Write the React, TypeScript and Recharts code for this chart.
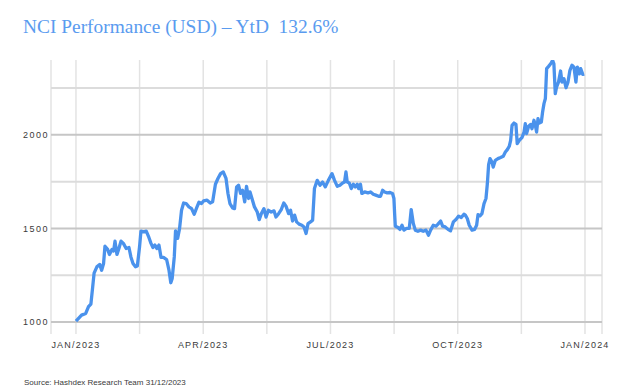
import React from "react";
import { LineChart, Line, XAxis, YAxis, CartesianGrid, ReferenceLine } from "recharts";

// Day of year 2023 (0 = 1 Jan 2023)
const days = [
  0, 4, 7, 9, 10.7, 12, 13, 15, 17, 18.4, 19.8, 20.8, 22.7, 24, 25.8, 27, 28, 29.4, 30.8, 32.3,
  34, 36, 38, 39.4, 40.9, 42.7, 44, 45.6, 46.6, 48.5, 50.4, 52.3, 53.8, 55.2, 56.6, 58, 59.5, 61,
  62.8, 65, 66.7, 68, 69, 70.5, 71.4, 72.9, 74.3, 75.7, 77.2, 79, 81, 82.9, 84.8, 86.8, 88.2, 90,
  91.5, 94, 96.3, 98, 100, 101.8, 103.7, 105.6, 107.6, 109, 110.4, 112.3, 113.7, 115.2, 116.6,
  118, 119.5, 121, 122.3, 123.8, 124.8, 126.2, 128, 130, 131.4, 132.9, 134.8, 136.3, 138, 140,
  142, 143.4, 145.3, 147.2, 149, 150.6, 152.5, 153.9, 155.3, 156.8, 158.2, 160, 162, 163.5, 165,
  166.4, 168.2, 169.7, 171, 173, 175, 176.8, 178.8,
  181, 183.6, 185.4, 187.4, 189.3, 191.2, 192.6, 193.6, 194.5, 196, 197.4, 198.9, 200.3, 201.7,
  202.7, 204, 205, 207, 209.4, 211.3, 213.2, 215, 217, 218.4, 219.9, 221.3, 223.2, 225.2, 227,
  228, 228.5, 229, 231, 232.3, 233.8, 235.2, 237, 239, 240.4, 241.9, 243.3, 245.2, 247.1, 249,
  251, 252.8, 254.3, 256.2, 258.2, 259.6, 261.5, 262.9, 264.8, 266.8, 268.6, 270.6, 272.5, 274.4,
  276.3, 278.2,
  279.2, 280.6, 282, 284, 285.8, 287.3, 288.3, 289.7, 291.1, 292.6, 294, 295, 295.9, 296.9, 298.3,
  299.2, 300.7, 302.6, 304.5, 306.4, 307.9, 309.3, 310.7, 311.7, 312.7, 314.1, 315.5, 316.4,
  317.9, 319.8, 321.3, 322.2, 323.1, 324.6, 326, 327, 328.4, 329.4, 330.3, 331.3, 332.2, 333.7,
  334.6, 335.6, 336.6, 337.5, 338.9, 340.4, 341.8, 342.7, 343.7, 344.6, 346, 347.5, 348.5, 349.9,
  351.4, 352.8, 354.2, 355.7, 357.1, 358.5, 359.5, 361, 361.9, 363.4, 364.4,
];

const nciValues = [
  1005, 1037, 1046, 1082, 1096, 1188, 1261, 1295, 1308, 1277, 1313, 1405, 1388, 1361, 1388, 1380, 1432, 1361, 1393, 1432,
  1420, 1393, 1398, 1348, 1313, 1295, 1299, 1402, 1486, 1482, 1486, 1452, 1420, 1398, 1411, 1393, 1411, 1345,
  1345, 1334, 1277, 1210, 1233, 1348, 1487, 1447, 1500, 1597, 1636, 1633, 1615, 1606, 1576, 1615, 1640, 1633,
  1647, 1651, 1636, 1642, 1736, 1767, 1793, 1802, 1767, 1687, 1633, 1610, 1606, 1722, 1731,
  1687, 1704, 1642, 1725, 1660, 1695, 1660, 1615, 1588, 1547, 1579, 1606, 1561, 1597, 1588,
  1594, 1561, 1579, 1601, 1636, 1619, 1579, 1597, 1540, 1571, 1535, 1523, 1517, 1508, 1473,
  1526, 1535, 1544, 1713, 1757, 1731, 1748, 1722,
  1757, 1793, 1757, 1725, 1731, 1743, 1748, 1802, 1748, 1743, 1713, 1736, 1722, 1736,
  1713, 1736, 1687, 1695, 1690, 1695, 1683, 1678, 1672, 1672, 1704, 1695, 1690, 1692, 1687,
  1660, 1579, 1512, 1505, 1495, 1517, 1491, 1500, 1500, 1601, 1527, 1491, 1485, 1491, 1485,
  1491, 1464, 1491, 1517, 1512, 1523, 1540, 1512, 1508, 1495, 1487, 1535, 1548, 1566,
  1558, 1576,
  1571, 1553, 1517, 1491, 1495, 1517, 1574, 1567, 1579, 1633, 1660, 1740, 1841, 1873, 1855,
  1828, 1864, 1873, 1879, 1886, 1908, 1921, 1939, 1971, 2051, 2063, 2056, 1953,
  1971, 1985, 2015, 2060, 2007, 2046, 2056, 2033, 2078, 2051, 2015, 2087, 2063, 2069,
  2122, 2167, 2194, 2354, 2366, 2380, 2398, 2380, 2220, 2255, 2282, 2341, 2282, 2300,
  2252, 2282, 2345, 2372, 2362, 2282, 2362, 2326, 2354, 2323, 2326,
];

const xTickDays = [0, 45.625, 91.25, 136.875, 182.5, 228.125, 273.75, 319.375, 365];
const xTickLabels = ["JAN/2023", "", "APR/2023", "", "JUL/2023", "", "OCT/2023", "", "JAN/2024"];
const yTickValues = [1000, 1500, 2000];
const majorGridValues = [1000, 1500, 2000];
const minorGridValues = [1250, 1750, 2250];

const titleText = "NCI Performance (USD) – YtD  132.6%";
const sourceText = "Source: Hashdex Research Team 31/12/2023";

const data = days.map((d, i) => ({ day: d, nci: nciValues[i] }));

export default function App() {
  return (
    <div style={{ position: "absolute", left: 0, top: 0, width: 632, height: 392, background: "#ffffff" }}>
      <div
        style={{
          position: "absolute",
          left: 23,
          top: 17,
          fontFamily: "'Liberation Serif', serif",
          fontSize: 19.4,
          lineHeight: "19px",
          color: "#5a9bef",
          whiteSpace: "pre",
        }}
      >
        {titleText}
      </div>
      <LineChart width={632} height={392} data={data} margin={{ top: 60, right: 30, bottom: 28, left: 6 }}>
        <CartesianGrid horizontal={false} vertical={true} stroke="#e3e3e3" strokeWidth={1.5} />
        {minorGridValues.map((v) => (
          <ReferenceLine key={"mi" + v} y={v} stroke="#dcdcdc" strokeWidth={2} />
        ))}
        {majorGridValues.map((v) => (
          <ReferenceLine key={"ma" + v} y={v} stroke="#c6c6c6" strokeWidth={2} />
        ))}
        <XAxis
          dataKey="day"
          type="number"
          domain={[-17.9, 377.2]}
          ticks={xTickDays}
          tickFormatter={(v: number, i: number) => xTickLabels[i] ?? ""}
          interval={0}
          axisLine={false}
          tickLine={false}
          height={30}
          tickSize={6}
          tickMargin={2}
          tick={{ fontFamily: "'Liberation Sans', Arial, sans-serif", fontSize: 9, fill: "#3a3a3a", letterSpacing: 1.2 }}
        />
        <YAxis
          type="number"
          domain={[936, 2400]}
          ticks={yTickValues}
          axisLine={false}
          tickLine={false}
          width={45}
          tickSize={0}
          tickMargin={2}
          allowDataOverflow={true}
          tick={{ fontFamily: "'Liberation Sans', Arial, sans-serif", fontSize: 9, fill: "#3a3a3a", letterSpacing: 1.5 }}
        />
        <Line
          type="linear"
          dataKey="nci"
          stroke="#4a92ec"
          strokeWidth={3.3}
          dot={false}
          activeDot={false}
          strokeLinejoin="round"
          isAnimationActive={false}
        />
      </LineChart>
      <div
        style={{
          position: "absolute",
          left: 24,
          top: 379,
          fontFamily: "'Liberation Sans', Arial, sans-serif",
          fontSize: 8,
          lineHeight: "8px",
          color: "#3a3a3a",
          whiteSpace: "pre",
        }}
      >
        {sourceText}
      </div>
    </div>
  );
}
